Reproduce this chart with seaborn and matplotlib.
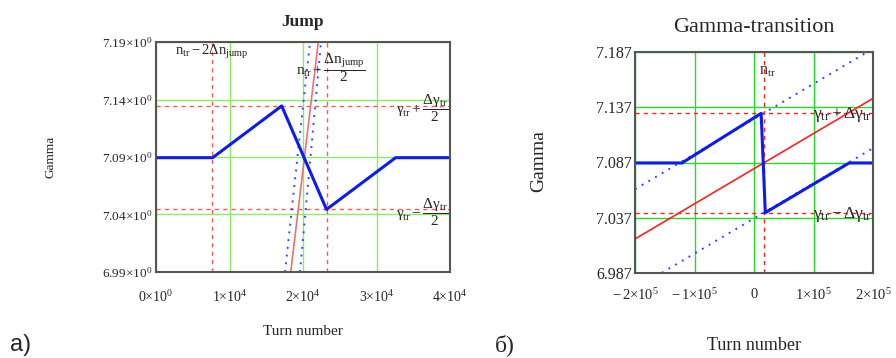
import matplotlib
matplotlib.use("Agg")
import matplotlib.pyplot as plt
import seaborn as sns

# ---- panel a) "Jump" ----
jump_xticks = [0, 10000, 20000, 30000, 40000]
jump_xlabels = [r'$0{\times}10^{0}$', r'$1{\times}10^{4}$', r'$2{\times}10^{4}$',
                r'$3{\times}10^{4}$', r'$4{\times}10^{4}$']
jump_yticks = [6.99, 7.04, 7.09, 7.14, 7.19]
jump_ylabels = [r'$6.99{\times}10^{0}$', r'$7.04{\times}10^{0}$', r'$7.09{\times}10^{0}$',
                r'$7.14{\times}10^{0}$', r'$7.19{\times}10^{0}$']
jump_blue_x = [0, 7700, 17100, 23200, 32600, 40000]
jump_blue_y = [7.0894, 7.0894, 7.1344, 7.0444, 7.0894, 7.0894]
jump_red_x = [18330, 22080]
jump_red_y = [6.99, 7.19]
jump_dot1_x = [17550, 20950]
jump_dot1_y = [6.99, 7.19]
jump_dot2_x = [19590, 22450]
jump_dot2_y = [6.99, 7.19]
jump_vlines = [7620, 23220]
jump_hlines = [7.1344, 7.0444]

# ---- panel б) "Gamma-transition" ----
gt_xticks = [-200000, -100000, 0, 100000, 200000]
gt_xlabels = [r'$-\,2{\times}10^{5}$', r'$-\,1{\times}10^{5}$', r'$0$',
              r'$1{\times}10^{5}$', r'$2{\times}10^{5}$']
gt_yticks = [6.987, 7.037, 7.087, 7.137, 7.187]
gt_ylabels = ['6.987', '7.037', '7.087', '7.137', '7.187']
gt_blue_x = [-200000, -121000, 12000, 19000, 160000, 200000]
gt_blue_y = [7.0866, 7.0866, 7.1315, 7.0416, 7.0866, 7.0866]
gt_red_x = [-200000, 200000]
gt_red_y = [7.0178, 7.145]
gt_dot1_y = [7.0628, 7.190]
gt_dot2_y = [6.9728, 7.100]
gt_vlines = [17300]
gt_hlines = [7.1315, 7.0416]

sns.set_theme(style="white")
plt.rcParams['font.family'] = ['Liberation Serif', 'DejaVu Serif']
plt.rcParams['mathtext.fontset'] = 'custom'
plt.rcParams['mathtext.rm'] = 'Liberation Serif'
plt.rcParams['mathtext.it'] = 'Liberation Serif:italic'
plt.rcParams['mathtext.bf'] = 'Liberation Serif:bold'
plt.rcParams['mathtext.default'] = 'rm'

fig = plt.figure(figsize=(8.96, 3.58), dpi=100)
ax1 = fig.add_axes([156/896, 1-272/358, 294/896, 230/358])
ax2 = fig.add_axes([635/896, 1-273/358, 238/896, 221/358])

# panel a
green1 = '#88ee66'
for v in jump_vlines:
    ax1.axvline(v, color='#ff5555', ls=(0, (3, 3)), lw=1.0)
for h in jump_hlines:
    ax1.axhline(h, color='#ff5555', ls=(0, (3, 3)), lw=1.0)
sns.lineplot(x=jump_dot1_x, y=jump_dot1_y, ax=ax1, color='#3344ff', lw=1.4, ls=(0, (1, 3)))
sns.lineplot(x=jump_dot2_x, y=jump_dot2_y, ax=ax1, color='#3344ff', lw=1.4, ls=(0, (1, 3)))
sns.lineplot(x=jump_red_x, y=jump_red_y, ax=ax1, color='#f07070', lw=1.2)
sns.lineplot(x=jump_blue_x, y=jump_blue_y, ax=ax1, color='#0a1cf0', lw=2.2)
ax1.set_xlim(0, 40000)
ax1.set_ylim(6.99, 7.19)
ax1.set_xticks(jump_xticks)
ax1.set_xticklabels(jump_xlabels, fontsize=10)
ax1.set_yticks(jump_yticks)
ax1.set_yticklabels(jump_ylabels, fontsize=9.5)
ax1.grid(True, color=green1, lw=1.0)
ax1.set_axisbelow(True)
ax1.tick_params(length=0, pad=3)
ax1.tick_params(axis='x', pad=12)
ax1.set_xlabel('Turn number', fontsize=11)
ax1.set_ylabel('Gamma', fontsize=9.5)
ax1.xaxis.set_label_coords(0.5, -0.23)
ax1.yaxis.set_label_coords(-0.337, 0.5)
ax1.text(0.5, 1.087, 'Jump', transform=ax1.transAxes, ha='center', va='center',
         fontsize=12.5, fontweight='bold')
ax1.text(7620, 7.181, r'$\mathrm{n_{tr}}-2\Delta\mathrm{n_{jump}}$', ha='center', va='center', fontsize=10.5)
ax1.text(19100, 7.168, r'$\mathrm{n_{tr}}+\dfrac{\Delta\mathrm{n_{jump}}}{2}$', ha='left', va='center', fontsize=11)
ax1.text(39800, 7.1325, r'$\gamma_{\mathrm{tr}}+\dfrac{\Delta\gamma_{\mathrm{tr}}}{2}$', ha='right', va='center', fontsize=11)
ax1.text(39800, 7.0425, r'$\gamma_{\mathrm{tr}}-\dfrac{\Delta\gamma_{\mathrm{tr}}}{2}$', ha='right', va='center', fontsize=11)
for s in ax1.spines.values():
    s.set_color('#555555')
    s.set_linewidth(1.5)

# panel b
green2 = '#22dd22'
for v in gt_vlines:
    ax2.axvline(v, color='#ff2020', ls=(0, (3, 3)), lw=1.0)
for h in gt_hlines:
    ax2.axhline(h, color='#ff2020', ls=(0, (3, 3)), lw=1.0)
sns.lineplot(x=gt_red_x, y=gt_dot1_y, ax=ax2, color='#3344ff', lw=1.4, ls=(0, (1, 3)))
sns.lineplot(x=gt_red_x, y=gt_dot2_y, ax=ax2, color='#3344ff', lw=1.4, ls=(0, (1, 3)))
sns.lineplot(x=gt_red_x, y=gt_red_y, ax=ax2, color='#ff2020', lw=1.2)
sns.lineplot(x=gt_blue_x, y=gt_blue_y, ax=ax2, color='#0a1cf0', lw=2.2, sort=False)
ax2.set_xlim(-200000, 200000)
ax2.set_ylim(6.987, 7.187)
ax2.set_xticks(gt_xticks)
ax2.set_xticklabels(gt_xlabels, fontsize=10.5)
ax2.set_yticks(gt_yticks)
ax2.set_yticklabels(gt_ylabels, fontsize=11.5)
ax2.grid(True, color=green2, lw=1.0)
ax2.set_axisbelow(True)
ax2.tick_params(length=0, pad=2)
ax2.tick_params(axis='x', pad=10)
ax2.set_xlabel('Turn number', fontsize=13)
ax2.set_ylabel('Gamma', fontsize=14)
ax2.xaxis.set_label_coords(0.5, -0.29)
ax2.yaxis.set_label_coords(-0.37, 0.507)
ax2.text(0.5, 1.109, 'Gamma-transition', transform=ax2.transAxes, ha='center', va='center',
         fontsize=16)
ax2.text(9000, 7.170, r'$\mathrm{n_{tr}}$', ha='left', va='center', fontsize=11.5)
ax2.text(198000, 7.130, r'$\gamma_{\mathrm{tr}}+\Delta\gamma_{\mathrm{tr}}$', ha='right', va='center', fontsize=12.5)
ax2.text(198000, 7.040, r'$\gamma_{\mathrm{tr}}-\Delta\gamma_{\mathrm{tr}}$', ha='right', va='center', fontsize=12.5)
for s in ax2.spines.values():
    s.set_color('#555555')
    s.set_linewidth(1.5)

fig.text(10/896, 1-345/358, 'a)', fontsize=17, family=['Liberation Sans'], va='center')
fig.text(495/896, 1-345/358, 'б)', fontsize=17, va='center')

fig.savefig('out.png', dpi=100)
